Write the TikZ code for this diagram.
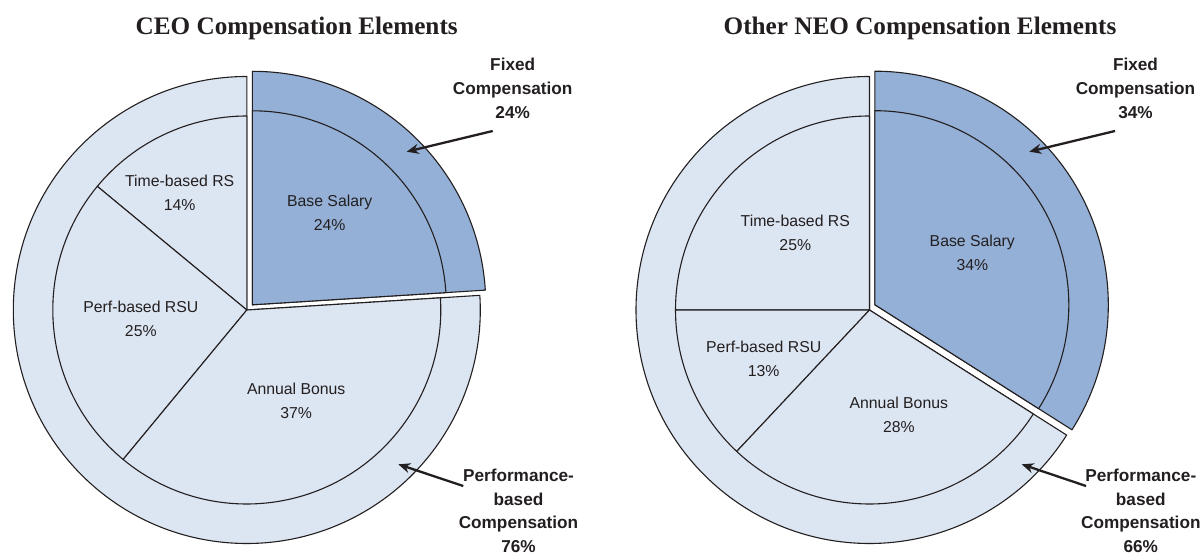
\documentclass[tikz,border=0pt]{standalone}
\usepackage{fontspec}
\setmainfont{Liberation Serif}
\newfontfamily\labelfont{Liberation Sans}
\usetikzlibrary{arrows.meta}
\definecolor{fixedblue}{RGB}{148,176,214}
\definecolor{perfblue}{RGB}{220,230,242}
\definecolor{ink}{RGB}{35,31,32}
% a filled pie slice: centre, start angle, end angle, radius, style
\newcommand\pieslice[5]{\filldraw[#5] (#1) -- ++(#2:#4) arc[start angle=#2, end angle=#3, radius=#4] -- cycle;}
\begin{document}
\begin{tikzpicture}[x=1pt, y=1pt,
  slice/.style={draw=ink, line width=1.1pt, line join=round},
  fixedslice/.style={slice, fill=fixedblue},
  perfslice/.style={slice, fill=perfblue},
  title/.style={font=\fontsize{25.2}{30}\selectfont\bfseries, text=ink, anchor=base, inner sep=0},
  seglabel/.style={font=\labelfont\fontsize{15.8}{24}\selectfont, text=ink, align=center, inner sep=0},
  grouplabel/.style={font=\labelfont\bfseries\fontsize{17.2}{23.7}\selectfont, text=ink, align=center, inner sep=0},
  pointer/.style={draw=ink, line width=2.3pt, -{Stealth[length=12pt, width=10pt]}}
]
\useasboundingbox (0,0) rectangle (1204,554);

% ---------- CEO chart ----------
\coordinate (c1) at (246.8,244);
\coordinate (f1) at (252.3,249.2);
\pieslice{c1}{90}{363.6}{233.5pt}{perfslice}
\pieslice{c1}{90}{140.4}{194pt}{perfslice}
\pieslice{c1}{140.4}{230.4}{194pt}{perfslice}
\pieslice{c1}{230.4}{363.6}{194pt}{perfslice}
\pieslice{f1}{3.6}{90}{233.5pt}{fixedslice}
\pieslice{f1}{3.6}{90}{194pt}{fixedslice}

\node[title] (t1) at (296.7,519) {CEO Compensation Elements};
\node[seglabel] (ceo-time) at (179.7,361) {Time-based RS\\14\%};
\node[seglabel] (ceo-base) at (329.7,341.5) {Base Salary\\24\%};
\node[seglabel] (ceo-rsu) at (140.8,235.3) {Perf-based RSU\\25\%};
\node[seglabel] (ceo-bonus) at (296.2,152.7) {Annual Bonus\\37\%};
\node[grouplabel] (ceo-fixed) at (512.7,465.7) {Fixed\\Compensation\\24\%};
\node[grouplabel] (ceo-perf) at (518.5,43.1) {Performance-\\based\\Compensation\\76\%};

\coordinate (ceo-fixed-tail) at (492.7,423);
\coordinate (ceo-fixed-head) at (406.7,402.3);
\coordinate (ceo-perf-tail) at (463.3,68);
\coordinate (ceo-perf-head) at (398.3,89.7);
\draw[pointer] (ceo-fixed-tail) -- (ceo-fixed-head);
\draw[pointer] (ceo-perf-tail) -- (ceo-perf-head);

% ---------- Other NEO chart ----------
\coordinate (c2) at (869.5,244);
\coordinate (f2) at (874.8,249.3);
\pieslice{c2}{90}{327.6}{233.5pt}{perfslice}
\pieslice{c2}{90}{180}{194pt}{perfslice}
\pieslice{c2}{180}{226.8}{194pt}{perfslice}
\pieslice{c2}{226.8}{327.6}{194pt}{perfslice}
\pieslice{f2}{-32.4}{90}{233.5pt}{fixedslice}
\pieslice{f2}{-32.4}{90}{194pt}{fixedslice}

\node[title] (t2) at (920,519) {Other NEO Compensation Elements};
\node[seglabel] (neo-time) at (795.3,321.2) {Time-based RS\\25\%};
\node[seglabel] (neo-base) at (972.3,301) {Base Salary\\34\%};
\node[seglabel] (neo-rsu) at (763.7,195.3) {Perf-based RSU\\13\%};
\node[seglabel] (neo-bonus) at (898.8,139.3) {Annual Bonus\\28\%};
\node[grouplabel] (neo-fixed) at (1135.5,465.7) {Fixed\\Compensation\\34\%};
\node[grouplabel] (neo-perf) at (1140.8,43.1) {Performance-\\based\\Compensation\\66\%};

\coordinate (neo-fixed-tail) at (1115,423);
\coordinate (neo-fixed-head) at (1029.3,402.3);
\coordinate (neo-perf-tail) at (1086,68);
\coordinate (neo-perf-head) at (1021.7,89.7);
\draw[pointer] (neo-fixed-tail) -- (neo-fixed-head);
\draw[pointer] (neo-perf-tail) -- (neo-perf-head);
\end{tikzpicture}
\end{document}
